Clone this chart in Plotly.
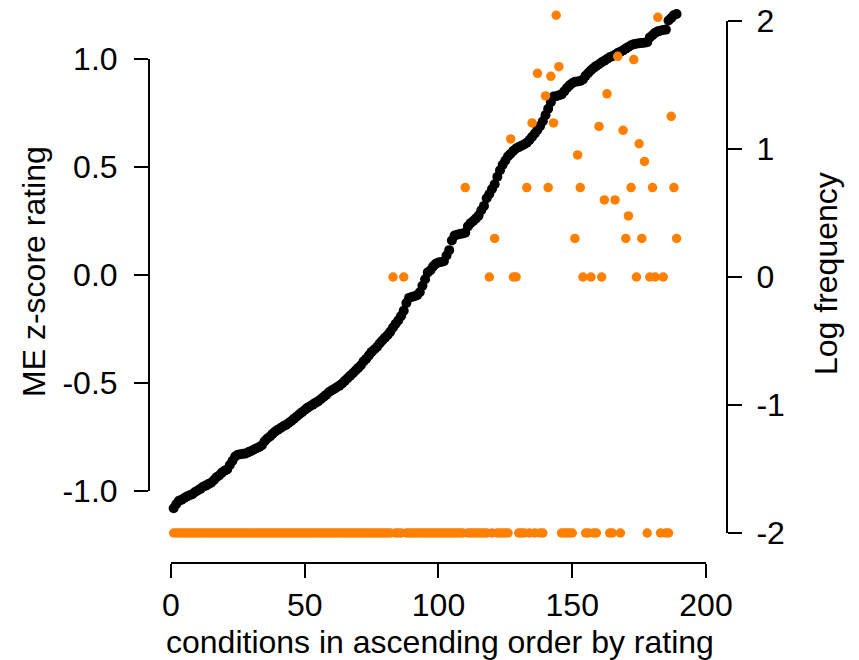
import plotly.graph_objects as go

# condition index (ascending order by rating)
conditions = list(range(1, 190))

# ME z-score rating (black points)
me_z = [
    -1.080, -1.060, -1.045, -1.040, -1.032, -1.025, -1.020, -1.015, -1.005, -0.998,
    -0.990, -0.980, -0.975, -0.968, -0.962, -0.950, -0.936, -0.928, -0.915, -0.906,
    -0.900, -0.880, -0.860, -0.840, -0.832, -0.830, -0.828, -0.826, -0.820, -0.815,
    -0.808, -0.802, -0.796, -0.788, -0.770, -0.757, -0.748, -0.735, -0.724, -0.716,
    -0.708, -0.700, -0.694, -0.685, -0.676, -0.665, -0.655, -0.645, -0.635, -0.625,
    -0.615, -0.608, -0.600, -0.592, -0.585, -0.575, -0.565, -0.555, -0.543, -0.535,
    -0.528, -0.520, -0.512, -0.502, -0.490, -0.478, -0.466, -0.455, -0.442, -0.430,
    -0.418, -0.400, -0.388, -0.372, -0.356, -0.345, -0.333, -0.317, -0.303, -0.290,
    -0.278, -0.262, -0.243, -0.226, -0.210, -0.190, -0.165, -0.130, -0.106, -0.102,
    -0.098, -0.094, -0.080, -0.050, -0.020, 0.012, 0.022, 0.040, 0.052, 0.058,
    0.060, 0.064, 0.090, 0.115, 0.160, 0.183, 0.186, 0.190, 0.192, 0.196,
    0.225, 0.240, 0.250, 0.262, 0.275, 0.300, 0.320, 0.355, 0.375, 0.398,
    0.420, 0.455, 0.485, 0.510, 0.530, 0.550, 0.562, 0.575, 0.586, 0.592,
    0.598, 0.604, 0.612, 0.625, 0.640, 0.655, 0.672, 0.690, 0.712, 0.740,
    0.770, 0.800, 0.826, 0.828, 0.832, 0.836, 0.850, 0.866, 0.878, 0.888,
    0.895, 0.896, 0.898, 0.905, 0.922, 0.935, 0.948, 0.958, 0.968, 0.976,
    0.985, 0.992, 1.000, 1.008, 1.013, 1.020, 1.028, 1.034, 1.040, 1.048,
    1.056, 1.064, 1.068, 1.071, 1.073, 1.074, 1.075, 1.078, 1.100, 1.110,
    1.122, 1.128, 1.131, 1.134, 1.136, 1.178, 1.190, 1.203, 1.208,
]

# Log frequency (orange points), -2 = not attested
log_freq = [
    -2, -2, -2, -2, -2, -2, -2, -2, -2, -2,
    -2, -2, -2, -2, -2, -2, -2, -2, -2, -2,
    -2, -2, -2, -2, -2, -2, -2, -2, -2, -2,
    -2, -2, -2, -2, -2, -2, -2, -2, -2, -2,
    -2, -2, -2, -2, -2, -2, -2, -2, -2, -2,
    -2, -2, -2, -2, -2, -2, -2, -2, -2, -2,
    -2, -2, -2, -2, -2, -2, -2, -2, -2, -2,
    -2, -2, -2, -2, -2, -2, -2, -2, -2, -2,
    -2, -2, 0, -2, -2, -2, 0, -2, -2, -2,
    -2, -2, -2, -2, -2, -2, -2, -2, -2, -2,
    -2, -2, -2, -2, -2, -2, -2, -2, -2, 0.699,
    -2, -2, -2, -2, -2, -2, -2, -2, 0, -2,
    0.301, -2, -2, -2, -2, -2, 1.079, 0, 0, -2,
    -2, -2, 0.699, -2, 1.204, -2, 1.591, -2, -2, 1.415,
    0.699, 1.568, 1.204, 2.045, 1.643, -2, -2, -2, -2, -2,
    0.301, 0.954, 0.699, 0, -2, -2, 0, -2, -2, 1.176,
    0, 0.602, 1.431, -2, -2, 0.602, 1.724, -2, 1.146, 0.301,
    0.477, 0.699, 1.699, 0, 1.041, 0.301, 0.903, -2, 0, 0.699,
    0, 2.029, -2, 0, -2, -2, 1.255, 0.699, 0.301,
]

x_ticks = [0, 50, 100, 150, 200]
x_ticktext = ["0", "50", "100", "150", "200"]
y_ticks = [-1.0, -0.5, 0.0, 0.5, 1.0]
y_ticktext = ["-1.0", "-0.5", "0.0", "0.5", "1.0"]
y2_ticks = [-2, -1, 0, 1, 2]
y2_ticktext = ["-2", "-1", "0", "1", "2"]

FONT = "Liberation Sans, Arial, sans-serif"
FS = 32

fig = go.Figure()
fig.add_trace(go.Scatter(
    x=conditions, y=me_z, mode="markers",
    marker=dict(color="black", size=10, line=dict(width=0)),
    yaxis="y", showlegend=False, hoverinfo="skip"))
fig.add_trace(go.Scatter(
    x=conditions, y=log_freq, mode="markers",
    marker=dict(color="#FF7F00", size=9.5, line=dict(width=0)),
    yaxis="y2", showlegend=False, hoverinfo="skip"))

axis_common = dict(showgrid=False, zeroline=False, showline=False,
                   ticks="outside", ticklen=14, tickwidth=2, tickcolor="black",
                   tickfont=dict(family=FONT, size=FS, color="black"))

fig.update_layout(
    width=859, height=660,
    margin=dict(l=149, r=132, t=0, b=97),
    paper_bgcolor="white", plot_bgcolor="white",
    xaxis=dict(range=[-8.22, 207.85], tickvals=x_ticks, ticktext=x_ticktext,
               ticklabelstandoff=0, **axis_common),
    yaxis=dict(range=[-1.3333, 1.2731], tickvals=y_ticks, ticktext=y_ticktext,
               ticklabelstandoff=10, **axis_common),
    yaxis2=dict(range=[-2.2344, 2.1641], tickvals=y2_ticks, ticktext=y2_ticktext,
                overlaying="y", side="right", anchor="x",
                ticklabelstandoff=8, **axis_common),
    shapes=[
        dict(type="line", xref="x", yref="paper", x0=x_ticks[0], x1=x_ticks[-1],
             y0=0, y1=0, line=dict(color="black", width=2)),
        dict(type="line", xref="paper", yref="y", x0=0, x1=0,
             y0=y_ticks[0], y1=y_ticks[-1], line=dict(color="black", width=2)),
        dict(type="line", xref="paper", yref="y2", x0=1, x1=1,
             y0=y2_ticks[0], y1=y2_ticks[-1], line=dict(color="black", width=2)),
    ],
    annotations=[
        dict(text="ME z-score rating", xref="paper", yref="paper",
             x=-0.199, y=0.5187, textangle=-90, showarrow=False,
             xanchor="center", yanchor="middle",
             font=dict(family=FONT, size=FS, color="black")),
        dict(text="Log frequency", xref="paper", yref="paper",
             x=1.1713, y=0.5133, textangle=-90, showarrow=False,
             xanchor="center", yanchor="middle",
             font=dict(family=FONT, size=FS, color="black")),
        dict(text="conditions in ascending order by rating", xref="paper", yref="paper",
             x=0.5026, y=-0.1403, showarrow=False,
             xanchor="center", yanchor="middle",
             font=dict(family=FONT, size=FS, color="black")),
    ],
)

fig.write_html(
    "out.html",
    config={"displayModeBar": False, "staticPlot": True},
    post_script="document.body.style.margin='0';document.body.style.padding='0';",
)
